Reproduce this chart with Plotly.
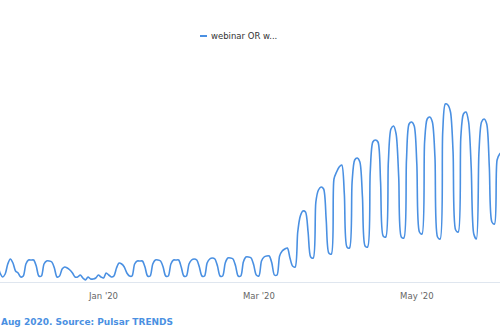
import pandas as pd
import plotly.graph_objects as go

# Daily mention counts, Wed 20 Nov 2019 through Wed 3 Jun 2020
start_date = "2019-11-20"
mentions = [
    18, 17, 9, 5, 8,                 # 20-24 Nov
    18, 23, 19, 11, 9, 5, 6,         # week of 25 Nov
    18, 22, 22, 22, 16, 6, 6,        # 2 Dec
    18, 21, 21, 20, 14, 5, 6,        # 9 Dec
    13, 15, 14, 12, 9, 5, 5,         # 16 Dec
    7, 4, 2, 5, 3, 3, 4,             # 23 Dec
    7, 5, 4, 9, 7, 5, 6,             # 30 Dec
    14, 19, 18, 15, 9, 6, 6,         # 6 Jan
    18, 21, 21, 21, 15, 6, 6,        # 13 Jan
    18, 22, 22, 21, 15, 6, 6,        # 20 Jan
    18, 22, 22, 22, 15, 6, 6,        # 27 Jan
    18, 22, 23, 22, 15, 6, 6,        # 3 Feb
    19, 23, 24, 23, 16, 6, 6,        # 10 Feb
    19, 24, 24, 23, 16, 6, 6,        # 17 Feb
    20, 25, 25, 24, 17, 7, 6,        # 24 Feb
    21, 25, 26, 26, 19, 7, 7,        # 2 Mar
    26, 31, 33, 34, 24, 16, 15,      # 9 Mar
    50, 66, 71, 70, 50, 25, 24,      # 16 Mar
    80, 92, 95, 93, 62, 29, 28,      # 23 Mar
    103, 110, 115, 117, 88, 35, 34,  # 30 Mar
    100, 122, 124, 120, 85, 36, 35,  # 6 Apr
    110, 140, 142, 140, 100, 46, 45, # 13 Apr
    120, 153, 156, 148, 105, 45, 44, # 20 Apr
    122, 158, 160, 156, 118, 50, 48, # 27 Apr
    140, 163, 165, 160, 125, 45, 43, # 4 May
    150, 178, 177, 170, 130, 52, 50, # 11 May
    145, 168, 170, 160, 115, 48, 43, # 18 May
    130, 160, 163, 158, 115, 60, 58, # 25 May
    122, 128, 130,                   # 1-3 Jun
]
dates = pd.date_range(start_date, periods=len(mentions), freq="D")

series_name = "webinar OR w..."
tick_dates = ["2020-01-01", "2020-03-01", "2020-05-01"]
tick_labels = ["Jan '20", "Mar '20", "May '20"]
caption = "Aug 2020. Source: Pulsar TRENDS"

line_color = "#4a90e2"

fig = go.Figure()
fig.add_trace(go.Scatter(
    x=dates, y=mentions, mode="lines", name=series_name,
    line=dict(color=line_color, width=1.6, shape="spline", smoothing=0.8),
    showlegend=False, hoverinfo="skip",
))

# compact legend entry: short stroke followed by the series name
fig.add_shape(type="line", xref="paper", yref="paper",
              x0=0.400, x1=0.414, y0=1.108, y1=1.108,
              line=dict(color=line_color, width=2))
fig.add_annotation(text=series_name, xref="paper", yref="paper",
                   x=0.418, y=1.108, xanchor="left", yanchor="middle",
                   showarrow=False, font=dict(size=8.5, color="#333333"))

fig.add_annotation(text=caption, xref="paper", yref="paper",
                   x=-0.002, y=-0.18, xanchor="left", yanchor="middle",
                   showarrow=False,
                   font=dict(size=9, color=line_color, family="DejaVu Sans", weight="bold"))

fig.update_layout(
    width=500, height=330,
    margin=dict(l=0, r=0, t=60, b=48),
    paper_bgcolor="white", plot_bgcolor="white",
    font=dict(family="DejaVu Sans", color="#666666"),
    xaxis=dict(
        range=["2019-11-22", "2020-06-02 03:00"],
        tickvals=tick_dates, ticktext=tick_labels,
        showgrid=False, zeroline=False, showline=True,
        linecolor="#dfe6ef", linewidth=1, ticks="",
        tickfont=dict(size=8.5, color="#666666"),
        ticklabelstandoff=6,
    ),
    yaxis=dict(range=[0, 222], visible=False, showgrid=False, zeroline=False),
)

fig.write_html("out.html")
